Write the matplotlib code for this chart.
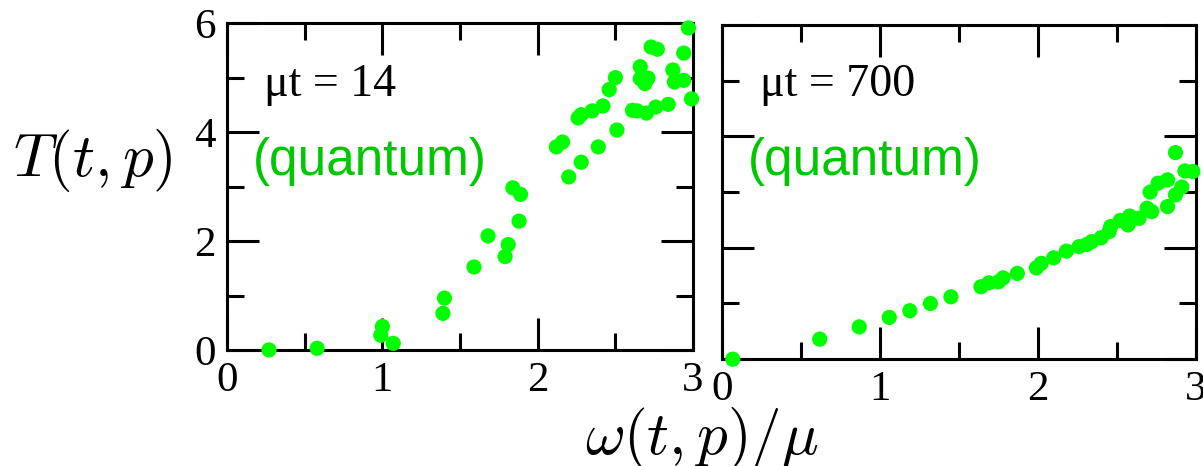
import matplotlib
matplotlib.use('Agg')
import matplotlib.pyplot as plt
from matplotlib.ticker import MultipleLocator

plt.rcParams['mathtext.fontset'] = 'cm'

# datos del panel izquierdo (mu t = 14)
w_14 = [0.27, 0.58, 1.00, 0.99, 1.07, 1.39, 1.40, 1.59, 1.68, 1.79, 1.81, 1.84, 1.89, 1.88,
        2.12, 2.16, 2.20, 2.28, 2.26, 2.28, 2.35, 2.42, 2.39, 2.46, 2.50, 2.51, 2.61, 2.64,
        2.70, 2.76, 2.84, 2.66, 2.66, 2.71, 2.69, 2.73, 2.77, 2.87, 2.88, 2.94, 2.94, 2.97, 2.99]
T_14 = [0.01, 0.04, 0.44, 0.28, 0.13, 0.68, 0.96, 1.53, 2.10, 1.72, 1.94, 2.98, 2.86, 2.37,
        3.73, 3.82, 3.18, 3.45, 4.26, 4.32, 4.39, 4.48, 3.73, 4.78, 5.00, 4.04, 4.40, 4.39,
        4.35, 4.46, 4.51, 5.20, 4.98, 4.99, 4.89, 5.56, 5.52, 5.14, 4.92, 4.95, 5.45, 5.91, 4.61]

# datos del panel derecho (mu t = 700)
w_700 = [0.07, 0.62, 0.87, 1.06, 1.19, 1.32, 1.45, 1.64, 1.69, 1.75, 1.78, 1.87, 1.99, 2.02,
         2.10, 2.18, 2.26, 2.31, 2.34, 2.40, 2.45, 2.46, 2.52, 2.57, 2.58, 2.64, 2.69, 2.71,
         2.72, 2.76, 2.82, 2.82, 2.87, 2.87, 2.91, 2.93, 2.98]
T_700 = [0.00, 0.36, 0.58, 0.75, 0.87, 1.00, 1.12, 1.30, 1.37, 1.39, 1.46, 1.54, 1.64, 1.72,
         1.82, 1.94, 2.02, 2.06, 2.11, 2.18, 2.29, 2.38, 2.49, 2.41, 2.57, 2.53, 2.71, 3.00,
         2.65, 3.16, 3.22, 2.74, 2.95, 3.71, 3.09, 3.38, 3.37]

# (x, y, etiqueta, caja de ejes, etiquetas en y, altura de los textos)
paneles = [(w_14, T_14, 'μt = 14', [0.1887, 0.2479, 0.3874, 0.7027], True, (0.81, 0.578)),
           (w_700, T_700, 'μt = 700', [0.5999, 0.2292, 0.3943, 0.7172], False, (0.82, 0.593))]

color_punto = '#00ff00'
color_texto = '#00c800'

fig = plt.figure(figsize=(12.03, 4.66), dpi=100)

for w, T, etiqueta, pos, con_y, (y_mu, y_q) in paneles:
    ax = fig.add_axes(pos)
    ax.scatter(w, T, s=120, color=color_punto, edgecolors='none', zorder=3, clip_on=False)
    ax.set_xlim(0, 3)
    ax.set_ylim(0, 6)
    ax.xaxis.set_major_locator(MultipleLocator(1))
    ax.xaxis.set_minor_locator(MultipleLocator(0.5))
    ax.yaxis.set_major_locator(MultipleLocator(2))
    ax.yaxis.set_minor_locator(MultipleLocator(1))
    ax.tick_params(which='both', direction='in', top=True, right=True, width=2.2,
                   labelsize=31, labelfontfamily='Liberation Serif')
    ax.tick_params(which='major', length=23, pad=8)
    ax.tick_params(which='minor', length=12)
    if not con_y:
        ax.tick_params(axis='y', labelleft=False)
    for sp in ax.spines.values():
        sp.set_linewidth(2.2)
    ax.text(0.08, y_mu, etiqueta, transform=ax.transAxes,
            fontsize=33, family='Liberation Serif', va='center', ha='left')
    ax.text(0.055, y_q, '(quantum)', transform=ax.transAxes, fontsize=37,
            family='Liberation Sans', color=color_texto, va='center', ha='left')

fig.text(0.077, 0.655, r'$T(t,p)$', fontsize=44, ha='center', va='center')
fig.text(0.583, 0.06, r'$\omega(t,p)/\mu$', fontsize=44, ha='center', va='center')

fig.savefig('out.png', dpi=100)
